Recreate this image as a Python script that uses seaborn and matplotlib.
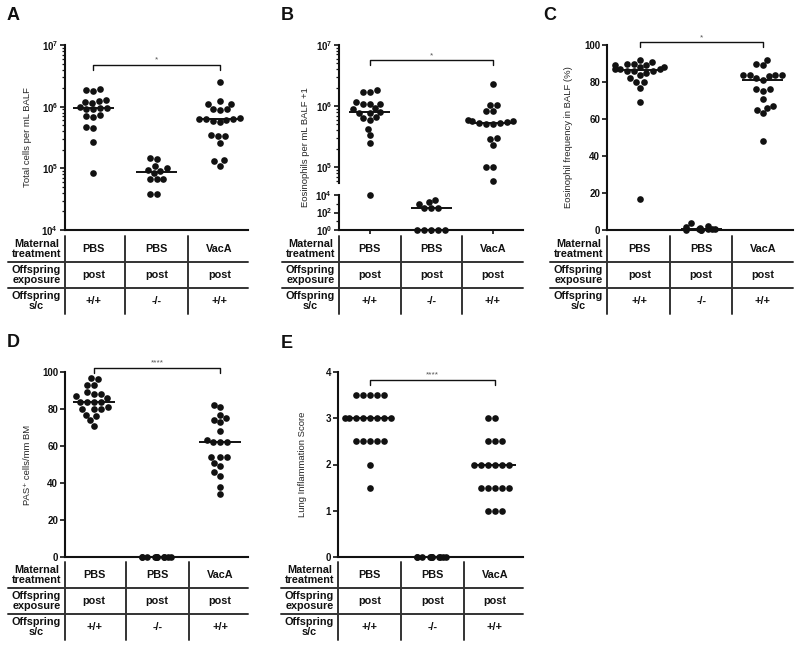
"""Dot plots of BALF cell counts, PAS+ cells and lung inflammation, with group tables."""

import numpy as np
import pandas as pd
import matplotlib
matplotlib.use('Agg')
import matplotlib.pyplot as plt
import matplotlib.ticker as ticker
import seaborn as sns

# groups and table rows
groups = ['PBS +/+', 'PBS -/-', 'VacA +/+']
row_labels = ['Maternal\ntreatment', 'Offspring\nexposure', 'Offspring\ns/c']
maternal = ['PBS', 'PBS', 'VacA']
exposure = ['post', 'post', 'post']
genotype = ['+/+', '-/-', '+/+']

# A - total cells per mL BALF
total_pbs_wt = [1.85e6, 1.9e6, 1.8e6, 1.3e6, 1.2e6, 1.15e6, 1.25e6, 9.5e5, 9.5e5, 9.0e5,
                9.3e5, 9.8e5, 7.0e5, 6.8e5, 7.2e5, 4.5e5, 4.6e5, 2.7e5, 8.3e4]
total_pbs_ko = [1.45e5, 1.4e5, 1.1e5, 1.0e5, 9.5e4, 9.2e4, 8.3e4, 6.8e4, 6.7e4, 6.6e4, 3.8e4, 3.8e4]
total_vaca_wt = [2.5e6, 1.25e6, 1.1e6, 1.1e6, 9.0e5, 9.0e5, 8.8e5, 6.5e5, 6.4e5, 6.3e5, 6.2e5,
                 6.0e5, 5.8e5, 5.6e5, 3.4e5, 3.3e5, 3.5e5, 2.6e5, 1.35e5, 1.3e5, 1.1e5]

# B - eosinophils per mL BALF + 1
eos_pbs_wt = [1.7e6, 1.8e6, 1.7e6, 1.1e6, 1.15e6, 1.1e6, 1.1e6, 9.3e5, 9.0e5, 8.0e5,
              7.8e5, 7.8e5, 6.5e5, 6.3e5, 6.0e5, 4.2e5, 3.3e5, 2.45e5, 1.0e4]
eos_pbs_ko = [1, 1, 1, 1, 1, 320, 320, 350, 870, 1600, 2700]
eos_vaca_wt = [2.3e6, 1.05e6, 1.05e6, 8.3e5, 8.3e5, 6.0e5, 5.8e5, 5.5e5, 5.2e5, 5.0e5,
               5.0e5, 5.3e5, 5.6e5, 3.0e5, 2.9e5, 2.3e5, 1.0e5, 1.0e5, 5.9e4]

# C - eosinophil frequency (%)
freq_pbs_wt = [92, 91, 90, 90, 89, 89, 88, 88, 87, 87, 87, 86, 86, 86, 85, 84, 82, 80, 80, 77, 69, 17]
freq_pbs_ko = [4, 1.8, 1, 0.5, 0.3, 0.2, 0.2, 0.2, 0.3, 0.6, 2]
freq_vaca_wt = [92, 90, 89, 84, 84, 84, 84, 83, 82, 81, 76, 76, 75, 71, 67, 66, 65, 63, 48]

# D - PAS+ cells/mm BM
pas_pbs_wt = [97, 96, 93, 93, 89, 88, 88, 87, 86, 84, 84, 84, 84, 81, 80, 80, 80, 77, 76, 74, 71]
pas_pbs_ko = [0] * 11
pas_vaca_wt = [82, 81, 77, 75, 74, 73, 68, 63, 62, 62, 62, 54, 54, 54, 51, 49, 46, 44, 38, 34]

# E - lung inflammation score
score_pbs_wt = [3.5] * 5 + [3.0] * 8 + [2.5] * 5 + [2.0, 1.5]
score_pbs_ko = [0] * 11
score_vaca_wt = [3.0] * 2 + [2.5] * 3 + [2.0] * 6 + [1.5] * 5 + [1.0] * 3

W, H = 800, 646
DOT = 4.8
INK = '#111111'
LINE = '#333333'

sns.set_style('ticks')
plt.rcParams.update({
    'font.family': ['Liberation Sans', 'DejaVu Sans'],
    'font.weight': 'bold',
    'mathtext.fontset': 'custom',
    'mathtext.rm': 'Liberation Sans:bold',
    'mathtext.it': 'Liberation Sans:bold',
    'mathtext.bf': 'Liberation Sans:bold',
    'axes.linewidth': 1.5,
    'axes.edgecolor': INK,
    'xtick.color': INK,
    'ytick.color': INK,
})


def px_axes(fig, left, top, right, bottom):
    return fig.add_axes([left / W, 1 - bottom / H, (right - left) / W, (bottom - top) / H])


def dots(ax, vals, i, packed=False):
    if len(vals) == 0:
        return
    sub = pd.DataFrame({'group': groups[i], 'value': vals})
    if packed:
        # values sitting on zero overlap into a short bar, as in the original;
        # the seed only fixes the sideways jitter
        np.random.seed(11)
        sns.stripplot(data=sub, x='group', y='value', order=groups, ax=ax, color=INK,
                      size=DOT, jitter=0.25, linewidth=0, clip_on=False, zorder=3)
    else:
        sns.swarmplot(data=sub, x='group', y='value', order=groups, ax=ax, color=INK,
                      size=DOT, linewidth=0, clip_on=False, zorder=3, warn_thresh=1)


def median_line(ax, vals, i):
    ax.hlines(np.median(vals), i - 0.33, i + 0.33, colors=INK, lw=1.4, zorder=5, clip_on=False)


def style_axes(ax, xlim, ylabel=None, label_x=None, xtick_len=0):
    ax.set_xlim(xlim)
    ax.set_xticks([0, 1, 2])
    ax.set_xticklabels([])
    ax.set_xlabel('')
    ax.tick_params(axis='x', length=xtick_len, width=1.2)
    ax.tick_params(axis='y', which='major', length=3.5, width=1.2, labelsize=7, pad=1.5)
    ax.tick_params(axis='y', which='minor', length=2, width=0.9)
    sns.despine(ax=ax)
    if ylabel is None:
        ax.set_ylabel('')
    else:
        ax.set_ylabel(ylabel, fontsize=6.8, fontweight='normal')
        ax.yaxis.set_label_coords(label_x, 0.5)


def bracket(ax, y, stars, drop=0.027):
    tr = ax.get_xaxis_transform()
    ax.plot([0, 0, 2, 2], [y - drop, y, y, y - drop], color=INK, lw=1.0,
            transform=tr, clip_on=False)
    ax.text(1, y + 0.006, stars, transform=tr, ha='center', va='bottom', fontsize=6,
            fontweight='normal', color='#555555')


def log_ticks(ax, lo, hi):
    ax.set_yscale('log')
    ax.set_yticks([10.0 ** k for k in range(lo, hi + 1)],
                  [r'$10^{%d}$' % k for k in range(lo, hi + 1)])
    ax.yaxis.set_minor_locator(ticker.LogLocator(base=10, subs=np.arange(2, 10), numticks=20))
    ax.yaxis.set_minor_formatter(ticker.NullFormatter())


def draw_table(fig, ax_left, ax_right, top, bottom, xlim, lab_w=57):
    tab = px_axes(fig, ax_left, top, ax_right, bottom)
    tab.set_xlim(xlim)
    tab.set_ylim(3, 0)
    tab.axis('off')
    unit = (ax_right - ax_left) / (xlim[1] - xlim[0])
    x0 = xlim[0] - lab_w / unit
    for yy in (1, 2):
        tab.plot([x0, xlim[1]], [yy, yy], color=LINE, lw=1.4, clip_on=False)
    for xx in (xlim[0], 0.5, 1.5):
        tab.plot([xx, xx], [0, 3], color=LINE, lw=1.4, clip_on=False)
    for r, (lab, row) in enumerate(zip(row_labels, [maternal, exposure, genotype])):
        tab.text((x0 + xlim[0]) / 2, r + 0.5, lab, ha='center', va='center',
                 fontsize=7.8, linespacing=0.95, color=INK)
        for c, v in enumerate(row):
            tab.text(c, r + 0.5, v, ha='center', va='center', fontsize=7.8, color=INK)


fig = plt.figure(figsize=(8, 6.46), dpi=100, facecolor='white')

# ---- A ----
xa = (-0.45, 2.45)
ax = px_axes(fig, 65, 45, 248, 230)
log_ticks(ax, 4, 7)
ax.set_ylim(1e4, 1e7)
for i, vals in enumerate([total_pbs_wt, total_pbs_ko, total_vaca_wt]):
    dots(ax, vals, i)
    median_line(ax, vals, i)
style_axes(ax, xa, 'Total cells per mL BALF', -33 / 183)
bracket(ax, 0.892, '*')
draw_table(fig, 65, 248, 236, 314, xa)

# ---- B (broken axis) ----
xb = (-0.5, 2.49)
ax_up = px_axes(fig, 339, 45, 523, 183)
ax_lo = px_axes(fig, 339, 195, 523, 230)
log_ticks(ax_up, 5, 7)
ax_up.set_ylim(10 ** 4.74, 1e7)
log_ticks(ax_lo, 0, 4)
ax_lo.set_yticks([1, 1e2, 1e4], [r'$10^{0}$', r'$10^{2}$', r'$10^{4}$'])
ax_lo.yaxis.set_minor_locator(ticker.FixedLocator([10, 1e3]))
ax_lo.set_ylim(1, 1e4)
for i, vals in enumerate([eos_pbs_wt, eos_pbs_ko, eos_vaca_wt]):
    vals = np.array(vals, dtype=float)
    dots(ax_up, vals[vals >= 3e4], i)
    dots(ax_lo, vals[vals < 3e4], i)
    med = np.median(vals)
    median_line(ax_up if med >= 3e4 else ax_lo, vals, i)
style_axes(ax_up, xb)
style_axes(ax_lo, xb, xtick_len=3)
ax_up.spines['bottom'].set_visible(False)
ax_up.tick_params(axis='x', length=0)
fig.text(305 / W, 1 - 147 / H, 'Eosinophils per mL BALF +1', rotation=90,
         ha='center', va='center', fontsize=6.8, fontweight='normal')
bracket(ax_up, 0.891, '*', drop=0.036)
draw_table(fig, 339, 523, 236, 314, xb)

# ---- C ----
xc = (-0.53, 2.49)
ax = px_axes(fig, 607, 45, 793, 230)
ax.set_ylim(0, 100)
ax.set_yticks(np.arange(0, 101, 20))
for i, vals in enumerate([freq_pbs_wt, freq_pbs_ko, freq_vaca_wt]):
    dots(ax, vals, i, packed=(i == 1))
    median_line(ax, vals, i)
style_axes(ax, xc, 'Eosinophil frequency in BALF (%)', -34 / 186)
bracket(ax, 1.016, '*')
draw_table(fig, 607, 793, 236, 314, xc)

# ---- D ----
xd = (-0.46, 2.44)
ax = px_axes(fig, 65, 372, 248, 557)
ax.set_ylim(0, 100)
ax.set_yticks(np.arange(0, 101, 20))
for i, vals in enumerate([pas_pbs_wt, pas_pbs_ko, pas_vaca_wt]):
    dots(ax, vals, i, packed=(i == 1))
    median_line(ax, vals, i)
style_axes(ax, xd, 'PAS\u207a cells/mm BM', -33 / 183)
bracket(ax, 1.022, '****')
draw_table(fig, 65, 248, 562, 640, xd)

# ---- E ----
xe = (-0.51, 2.45)
ax = px_axes(fig, 338, 372, 523, 557)
ax.set_ylim(0, 4)
ax.set_yticks(np.arange(0, 5, 1))
for i, vals in enumerate([score_pbs_wt, score_pbs_ko, score_vaca_wt]):
    dots(ax, vals, i, packed=(i == 1))
    median_line(ax, vals, i)
style_axes(ax, xe, 'Lung Inflammation Score', -31 / 185)
bracket(ax, 0.957, '****')
draw_table(fig, 338, 523, 562, 640, xe)

# panel letters
for letter, (lx, ly) in zip('ABCDE', [(7, 7), (281, 7), (543, 7), (7, 334), (281, 335)]):
    fig.text(lx / W, 1 - ly / H, letter, ha='left', va='top', fontsize=13, color=INK)

fig.savefig('out.png', dpi=100, facecolor='white')
plt.close(fig)
